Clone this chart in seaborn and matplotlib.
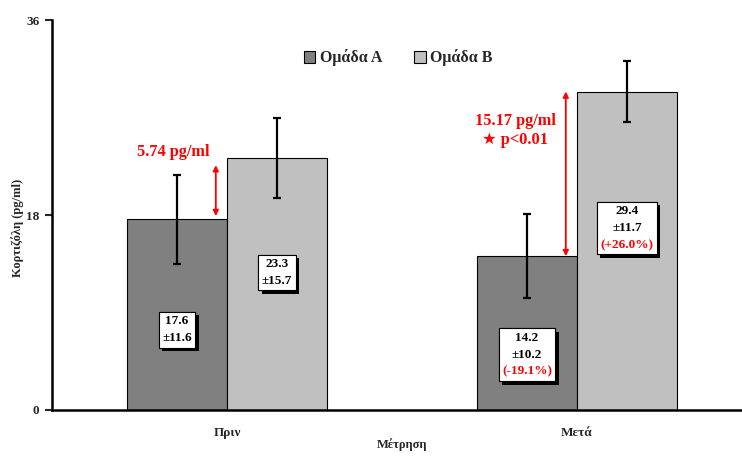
import matplotlib
matplotlib.use("Agg")
import matplotlib.pyplot as plt
import matplotlib.patheffects as pe
from matplotlib.offsetbox import TextArea, VPacker, AnnotationBbox
import seaborn as sns
import pandas as pd

# ---- data ----
measurements = ["Πριν", "Μετά"]
groups = ["Ομάδα A", "Ομάδα B"]
group_a_means = [17.6, 14.2]
group_b_means = [23.3, 29.4]
group_a_err = [4.1, 3.9]
group_b_err = [3.7, 2.8]
group_a_sd = ["±11.6", "±10.2"]
group_b_sd = ["±15.7", "±11.7"]
group_a_change = [None, "(-19.1%)"]
group_b_change = [None, "(+26.0%)"]
diff_labels = ["5.74 pg/ml", "15.17 pg/ml"]
sig_label = "★ p<0.01"
y_ticks = [0, 18, 36]

# layout (label vertical positions, data units)
a_label_y = [7.4, 5.1]
b_label_y = [12.7, 16.8]

sns.set_style("white")
plt.rcParams["font.family"] = ["Liberation Serif", "DejaVu Sans"]
plt.rcParams["font.weight"] = "bold"

df = pd.DataFrame({
    "Μέτρηση": measurements * 2,
    "Ομάδα": [groups[0]] * 2 + [groups[1]] * 2,
    "value": group_a_means + group_b_means,
})

fig = plt.figure(figsize=(7.42, 4.58), dpi=100)
ax = fig.add_axes([52 / 742, 48 / 458, 700 / 742, 390 / 458])

sns.barplot(data=df, x="Μέτρηση", y="value", hue="Ομάδα",
            palette=["#808080", "#C0C0C0"], width=0.5714, gap=0,
            edgecolor="black", linewidth=0.8, errorbar=None,
            saturation=1, ax=ax)

means = [group_a_means, group_b_means]
errs = [group_a_err, group_b_err]
sds = [group_a_sd, group_b_sd]
changes = [group_a_change, group_b_change]
label_ys = [a_label_y, b_label_y]

BOX_FS = 9.5
bar_containers = list(ax.containers)
centers = []
for ci, cont in enumerate(bar_containers):
    xs = [b.get_x() + b.get_width() / 2 for b in cont.patches]
    centers.append(xs)
    ax.errorbar(xs, means[ci], yerr=errs[ci], fmt="none", ecolor="black",
                elinewidth=1.6, capsize=3, capthick=1.6, zorder=5)
    for j, x in enumerate(xs):
        tp = dict(fontsize=BOX_FS, fontweight="bold")
        lines = [TextArea(f"{means[ci][j]}", textprops=dict(color="black", **tp)),
                 TextArea(sds[ci][j], textprops=dict(color="black", **tp))]
        if changes[ci][j] is not None:
            lines.append(TextArea(changes[ci][j],
                                  textprops=dict(color="red", **tp)))
        pack = VPacker(children=lines, align="center", pad=0, sep=3.5)
        ab = AnnotationBbox(pack, (x, label_ys[ci][j]), frameon=True,
                            box_alignment=(0.5, 0.5), pad=0.25,
                            bboxprops=dict(boxstyle="square,pad=0.25",
                                           fc="white", ec="black", lw=0.8),
                            zorder=6)
        ab.patch.set_path_effects(
            [pe.withSimplePatchShadow(offset=(2.5, -2.5),
                                      shadow_rgbFace="black", alpha=1.0),
             pe.Normal()])
        ax.add_artist(ab)

# difference arrows
for j in range(2):
    xa = centers[1][j] - (centers[1][j] - centers[0][j]) / 2 - 0.032
    y0 = group_a_means[j] + (0.3 if j == 0 else 0.0)
    y1 = group_b_means[j] - (0.7 if j == 0 else 0.0)
    ax.annotate("", xy=(xa, y1), xytext=(xa, y0),
                arrowprops=dict(arrowstyle="<|-|>", color="red", lw=1.3,
                                mutation_scale=8, shrinkA=0, shrinkB=0),
                zorder=8)

RED_FS = 11.8
ax.text(-0.154, 23.8, diff_labels[0], ha="center", va="center", color="red",
        fontsize=RED_FS, fontweight="bold")
ax.text(0.823, 26.7, diff_labels[1], ha="center", va="center", color="red",
        fontsize=RED_FS, fontweight="bold")
ax.text(0.823, 24.9, sig_label, ha="center", va="center", color="red",
        fontsize=RED_FS, fontweight="bold")

ax.set_xlim(-0.5, 1.5)
ax.set_ylim(0, 36)
ax.set_yticks(y_ticks)
ax.set_yticklabels([str(v) for v in y_ticks], fontsize=9.5, fontweight="bold")
ax.set_xticks([0, 1])
ax.set_xticklabels(measurements, fontsize=9.5, fontweight="bold")
ax.tick_params(axis="y", direction="out", length=5, width=1.5, pad=4, left=True)
ax.tick_params(axis="x", length=0, pad=12)
ax.set_xlabel("Μέτρηση", fontsize=9, fontweight="bold")
ax.set_ylabel("Κορτιζόλη (pg/ml)", fontsize=9, fontweight="bold")
ax.xaxis.set_label_coords(0.5, (410 - 438) / 390)
ax.yaxis.set_label_coords((24 - 52) / 700, (410 - 228) / 390)
for s in ["top", "right"]:
    ax.spines[s].set_visible(False)
for s in ["left", "bottom"]:
    ax.spines[s].set_linewidth(1.8)
    ax.spines[s].set_color("black")

leg = ax.legend(loc="center", bbox_to_anchor=(398.5 / 742, 1 - 58 / 458),
                bbox_transform=fig.transFigure, ncol=2, frameon=False,
                handlelength=0.7, handleheight=0.7, handletextpad=0.3,
                columnspacing=2.0, prop={"size": 11.5, "weight": "bold"})

fig.savefig("out.png", dpi=100)
